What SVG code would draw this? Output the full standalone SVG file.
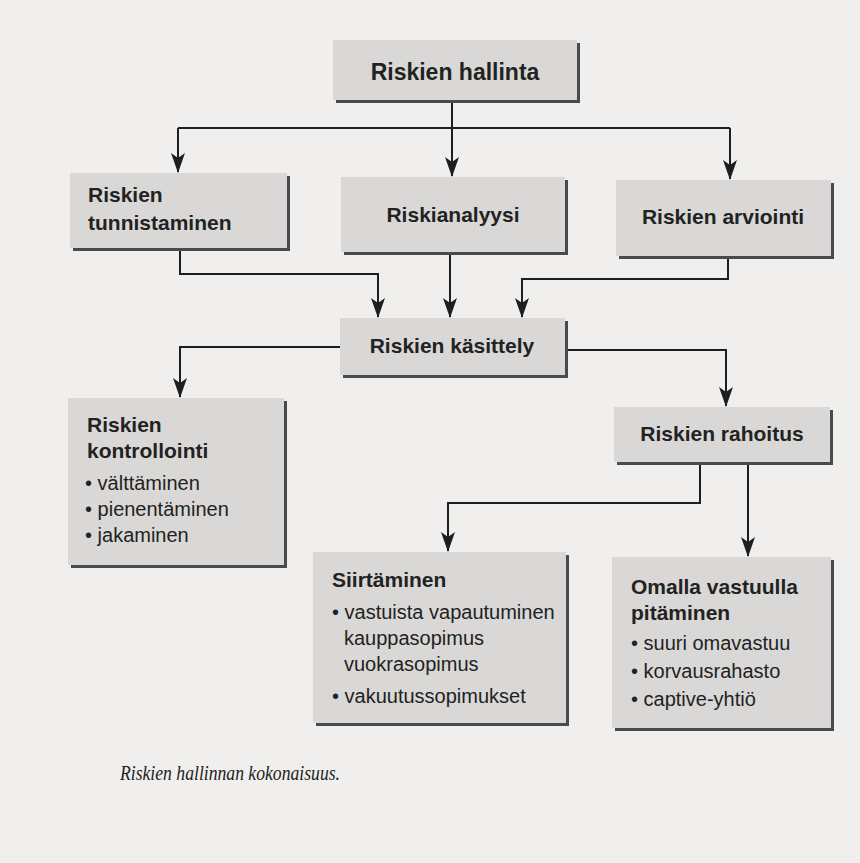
<svg xmlns="http://www.w3.org/2000/svg" width="860" height="863" viewBox="0 0 860 863">
<defs>
<marker id="arr" viewBox="0 0 20 14" refX="19" refY="7" markerWidth="20" markerHeight="14" markerUnits="userSpaceOnUse" orient="auto">
<path d="M0,0 L20,7 L0,14 L5,7 z" fill="#1e1e1e"/>
</marker>
</defs>
<style>
.sh{fill:#4a4a4a}
.bx{fill:#d9d8d6}
.h{font-family:"Liberation Sans",Arial,sans-serif;font-weight:bold;font-size:21px;fill:#222}
.t{font-family:"Liberation Sans",Arial,sans-serif;font-size:20px;fill:#222}
.c{text-anchor:middle}
.ln{fill:none;stroke:#1e1e1e;stroke-width:2}
.cap{font-family:"Liberation Serif","Times New Roman",serif;font-style:italic;font-size:21px;fill:#222}
</style>
<rect width="860" height="863" fill="#f0efed"/>

<g id="connectors">
<path class="ln" d="M452,100 V128"/>
<path class="ln" d="M178,128 H730"/>
<path class="ln" d="M178,128 V172" marker-end="url(#arr)"/>
<path class="ln" d="M452,128 V176" marker-end="url(#arr)"/>
<path class="ln" d="M730,128 V179" marker-end="url(#arr)"/>
<path class="ln" d="M180,248 V274 H378 V317" marker-end="url(#arr)"/>
<path class="ln" d="M450,252 V317" marker-end="url(#arr)"/>
<path class="ln" d="M728,256 V279 H522 V317" marker-end="url(#arr)"/>
<path class="ln" d="M340,347 H180 V397" marker-end="url(#arr)"/>
<path class="ln" d="M565,350 H726 V406" marker-end="url(#arr)"/>
<path class="ln" d="M700,462 V503 H448 V551" marker-end="url(#arr)"/>
<path class="ln" d="M748,462 V556" marker-end="url(#arr)"/>
</g>

<g id="riskien-hallinta">
<rect class="sh" x="336" y="43" width="244" height="60"/>
<rect class="bx" x="333" y="40" width="244" height="60"/>
<text class="h c" x="455" y="80" style="font-size:23px">Riskien hallinta</text>
</g>

<g id="riskien-tunnistaminen">
<rect class="sh" x="73" y="176" width="217" height="75"/>
<rect class="bx" x="70" y="173" width="217" height="75"/>
<text class="h" x="88" y="202">Riskien</text>
<text class="h" x="88" y="230">tunnistaminen</text>
</g>

<g id="riskianalyysi">
<rect class="sh" x="344" y="180" width="224" height="75"/>
<rect class="bx" x="341" y="177" width="224" height="75"/>
<text class="h c" x="453" y="222">Riskianalyysi</text>
</g>

<g id="riskien-arviointi">
<rect class="sh" x="619" y="183" width="215" height="76"/>
<rect class="bx" x="616" y="180" width="215" height="76"/>
<text class="h c" x="723" y="224">Riskien arviointi</text>
</g>

<g id="riskien-kasittely">
<rect class="sh" x="343" y="321" width="225" height="57"/>
<rect class="bx" x="340" y="318" width="225" height="57"/>
<text class="h c" x="452" y="353">Riskien käsittely</text>
</g>

<g id="riskien-kontrollointi">
<rect class="sh" x="71" y="401" width="216" height="167"/>
<rect class="bx" x="68" y="398" width="216" height="167"/>
<text class="h" x="87" y="432">Riskien</text>
<text class="h" x="87" y="458">kontrollointi</text>
<text class="t" x="85" y="490">• välttäminen</text>
<text class="t" x="85" y="516">• pienentäminen</text>
<text class="t" x="85" y="542">• jakaminen</text>
</g>

<g id="riskien-rahoitus">
<rect class="sh" x="617" y="410" width="216" height="55"/>
<rect class="bx" x="614" y="407" width="216" height="55"/>
<text class="h c" x="722" y="441">Riskien rahoitus</text>
</g>

<g id="siirtaminen">
<rect class="sh" x="316" y="555" width="253" height="171"/>
<rect class="bx" x="313" y="552" width="253" height="171"/>
<text class="h" x="332" y="587">Siirtäminen</text>
<text class="t" x="332" y="619">• vastuista vapautuminen</text>
<text class="t" x="344" y="645">kauppasopimus</text>
<text class="t" x="344" y="671">vuokrasopimus</text>
<text class="t" x="332" y="703">• vakuutussopimukset</text>
</g>

<g id="omalla-vastuulla">
<rect class="sh" x="615" y="560" width="219" height="171"/>
<rect class="bx" x="612" y="557" width="219" height="171"/>
<text class="h" x="631" y="594">Omalla vastuulla</text>
<text class="h" x="631" y="620">pitäminen</text>
<text class="t" x="631" y="650">• suuri omavastuu</text>
<text class="t" x="631" y="678">• korvausrahasto</text>
<text class="t" x="631" y="706">• captive-yhtiö</text>
</g>

<text class="cap" x="120" y="780" textLength="220" lengthAdjust="spacingAndGlyphs">Riskien hallinnan kokonaisuus.</text>
</svg>
